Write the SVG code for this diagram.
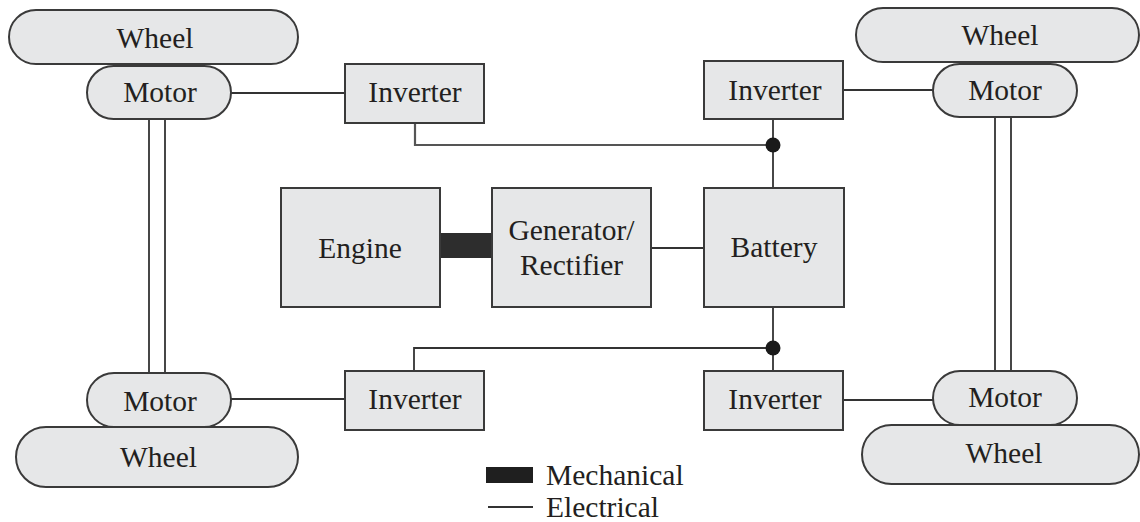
<svg xmlns="http://www.w3.org/2000/svg" width="1140" height="522" viewBox="0 0 1140 522">
<style>
.box{fill:#e6e7e8;stroke:#3a3a3a;stroke-width:2}
text{font-family:'Liberation Serif','DejaVu Serif',serif;font-size:29.5px;fill:#231f20;text-anchor:middle}
.w{fill:none;stroke:#333;stroke-width:1.8}
.bus{fill:none;stroke:#555;stroke-width:2.2}
.dot{fill:#1a1a1a}
</style>
<rect width="1140" height="522" fill="#fff"/>
<g id="connectors">
<path class="w" d="M149 64V373M165 64V373"/>
<path class="w" d="M995 117V371M1011 117V371"/>
<path class="w" d="M231 93H345"/>
<path class="bus" d="M415 123V145H773"/>
<path class="w" d="M773 119V188"/>
<path class="w" d="M843 90H933"/>
<path class="w" d="M651 248H704"/>
<path class="w" d="M773 307V371"/>
<path class="w" d="M773 348H414V371"/>
<path class="w" d="M231 399H345"/>
<path class="w" d="M843 400H933"/>
<rect x="440" y="233" width="52" height="25" fill="#2d2d2d"/>
<circle class="dot" cx="773" cy="145" r="7.5"/>
<circle class="dot" cx="773" cy="348" r="7.5"/>
</g>
<g id="wheel-tl"><rect class="box" x="9" y="10" width="289" height="54" rx="27"/><text font-family="Liberation Serif" x="155" y="48">Wheel</text></g>
<g id="motor-tl"><rect class="box" x="87" y="66" width="144" height="53" rx="26.5"/><text font-family="Liberation Serif" x="160" y="102">Motor</text></g>
<g id="inverter-tl"><rect class="box" x="345" y="64" width="139" height="59"/><text font-family="Liberation Serif" x="415" y="102">Inverter</text></g>
<g id="wheel-tr"><rect class="box" x="856" y="8" width="283" height="54" rx="27"/><text font-family="Liberation Serif" x="1000" y="45">Wheel</text></g>
<g id="motor-tr"><rect class="box" x="933" y="64" width="144" height="53" rx="26.5"/><text font-family="Liberation Serif" x="1005" y="100">Motor</text></g>
<g id="inverter-tr"><rect class="box" x="704" y="61" width="139" height="58"/><text font-family="Liberation Serif" x="775" y="100">Inverter</text></g>
<g id="engine"><rect class="box" x="281" y="188" width="159" height="119"/><text font-family="Liberation Serif" x="360" y="258">Engine</text></g>
<g id="generator"><rect class="box" x="492" y="188" width="159" height="119"/><text font-family="Liberation Serif" x="571.5" y="240">Generator/</text><text font-family="Liberation Serif" x="571.5" y="275">Rectifier</text></g>
<g id="battery"><rect class="box" x="704" y="188" width="140" height="119"/><text font-family="Liberation Serif" x="774" y="257">Battery</text></g>
<g id="inverter-bl"><rect class="box" x="345" y="371" width="139" height="59"/><text font-family="Liberation Serif" x="415" y="409">Inverter</text></g>
<g id="motor-bl"><rect class="box" x="87" y="373" width="144" height="54" rx="27"/><text font-family="Liberation Serif" x="160" y="411">Motor</text></g>
<g id="wheel-bl"><rect class="box" x="16" y="427" width="282" height="60" rx="30"/><text font-family="Liberation Serif" x="158.5" y="467">Wheel</text></g>
<g id="inverter-br"><rect class="box" x="704" y="371" width="139" height="59"/><text font-family="Liberation Serif" x="775" y="409">Inverter</text></g>
<g id="motor-br"><rect class="box" x="933" y="371" width="144" height="54" rx="27"/><text font-family="Liberation Serif" x="1005" y="407">Motor</text></g>
<g id="wheel-br"><rect class="box" x="862" y="425" width="277" height="59" rx="29.5"/><text font-family="Liberation Serif" x="1004" y="463">Wheel</text></g>
<g id="legend">
<rect x="486" y="467" width="47" height="16" fill="#1f1f1f"/>
<text font-family="Liberation Serif" x="546" y="485" style="text-anchor:start">Mechanical</text>
<path class="w" d="M488 507H533"/>
<text font-family="Liberation Serif" x="546" y="517" style="text-anchor:start">Electrical</text>
</g>
</svg>
